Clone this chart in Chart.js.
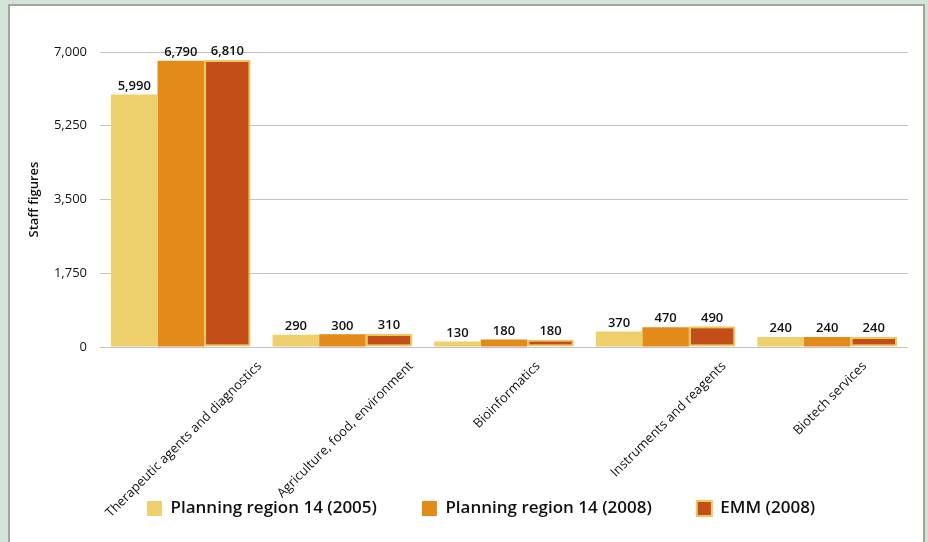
<!DOCTYPE html>
<html>
<head>
<meta charset="utf-8">
<script src="https://cdn.jsdelivr.net/npm/chart.js@4/dist/chart.umd.min.js"></script>
<style>
  html, body { margin: 0; padding: 0; }
  body { width: 928px; height: 542px; background: #d3e5d6; position: relative; overflow: hidden; }
  #panel { position: absolute; left: 8px; top: 4px; width: 913px; height: 560px; background: #ffffff; border: 2px solid #a3a3a3; }
  #wrap { position: absolute; left: 0; top: 0; width: 928px; height: 542px; }
</style>
</head>
<body>
<div id="panel"></div>
<div id="wrap"><canvas id="c" width="928" height="542"></canvas></div>
<script>
const categories = [
  "Therapeutic agents and diagnostics",
  "Agriculture, food, environment",
  "Bioinformatics",
  "Instruments and reagents",
  "Biotech services"
];
const seriesNames = ["Planning region 14 (2005)", "Planning region 14 (2008)", "EMM (2008)"];
const region2005 = [5990, 290, 130, 370, 240];
const region2008 = [6790, 300, 180, 470, 240];
const emm2008 = [6810, 310, 180, 490, 240];
const yTicks = [0, 1750, 3500, 5250, 7000];

const FONT = "'Open Sans', 'Noto Sans', sans-serif";
const PLOT_BOTTOM = 347;

// value labels above bars
const valueLabels = {
  id: 'valueLabels',
  afterDatasetsDraw(chart) {
    const ctx = chart.ctx;
    ctx.save();
    ctx.font = '600 13px ' + FONT;
    ctx.fillStyle = '#111';
    ctx.textAlign = 'center';
    ctx.textBaseline = 'bottom';
    chart.data.datasets.forEach((ds, di) => {
      const meta = chart.getDatasetMeta(di);
      meta.data.forEach((bar, i) => {
        ctx.fillText(ds.data[i].toLocaleString('en-US'), bar.x, bar.y - 2);
      });
    });
    ctx.restore();
  }
};

// rotated category labels centred on their category
const xLabels = {
  id: 'xLabels',
  afterDraw(chart) {
    const ctx = chart.ctx;
    const xs = chart.scales.x;
    ctx.save();
    ctx.font = '13px ' + FONT;
    ctx.fillStyle = '#111';
    ctx.textAlign = 'right';
    ctx.textBaseline = 'middle';
    chart.data.labels.forEach((lbl, i) => {
      const x = xs.getPixelForTick(i);
      const L = ctx.measureText(lbl).width;
      ctx.save();
      ctx.translate(x + L * Math.SQRT1_2 / 2 + 3, chart.chartArea.bottom + 17);
      ctx.rotate(-Math.PI / 4);
      ctx.fillText(lbl, 0, 0);
      ctx.restore();
    });
    ctx.restore();
  }
};

// place legend like the reference
const legendPlace = {
  id: 'legendPlace',
  afterLayout(chart) {
    const lg = chart.legend;
    if (!lg || !lg.lineWidths) return;
    const pad = lg.options.labels.padding;
    const cursorX = (lg.left + pad + lg.right - lg.lineWidths[0]) / 2;
    const dx = 147 - cursorX;
    lg.left += dx; lg.right += dx;
    const T = 502 - pad - 2;
    const h = lg.bottom - lg.top;
    lg.top = T; lg.bottom = T + h;
  }
};

new Chart(document.getElementById('c'), {
  type: 'bar',
  data: {
    labels: categories,
    datasets: [
      { label: seriesNames[0], data: region2005, backgroundColor: '#edd06b', borderWidth: 0 },
      { label: seriesNames[1], data: region2008, backgroundColor: '#e38a19', borderWidth: 0 },
      { label: seriesNames[2], data: emm2008, backgroundColor: '#c44e17', borderColor: '#eec85a', borderWidth: 2, borderSkipped: false }
    ]
  },
  options: {
    responsive: false,
    animation: false,
    devicePixelRatio: 1,
    layout: { padding: { left: 10, right: 20, top: 52, bottom: 0 } },
    datasets: { bar: { categoryPercentage: 0.864, barPercentage: 1.0 } },
    scales: {
      x: {
        grid: { display: false },
        border: { display: false },
        ticks: { display: false },
        afterFit: (scale) => {
          const lgH = scale.chart.legend ? scale.chart.legend.height : 0;
          scale.height = scale.chart.height - lgH - PLOT_BOTTOM;
        }
      },
      y: {
        min: 0,
        max: 7000,
        afterBuildTicks: (scale) => { scale.ticks = yTicks.map(v => ({ value: v })); },
        grid: { color: '#c4c4c4', lineWidth: 1, drawTicks: false },
        border: { display: false },
        ticks: {
          color: '#111',
          font: { family: FONT, size: 13 },
          padding: 13,
          callback: (v) => v.toLocaleString('en-US')
        },
        title: {
          display: true,
          text: 'Staff figures',
          color: '#111',
          font: { family: FONT, size: 13, weight: '600' },
          padding: { top: 16, bottom: 4 }
        },
        afterFit: (scale) => { scale.width = 90; }
      }
    },
    plugins: {
      legend: {
        position: 'bottom',
        labels: {
          color: '#111',
          font: { family: FONT, size: 17, weight: '600' },
          boxWidth: 15,
          boxHeight: 15,
          padding: 45
        }
      },
      tooltip: { enabled: false }
    }
  },
  plugins: [valueLabels, xLabels, legendPlace]
});
</script>
</body>
</html>
